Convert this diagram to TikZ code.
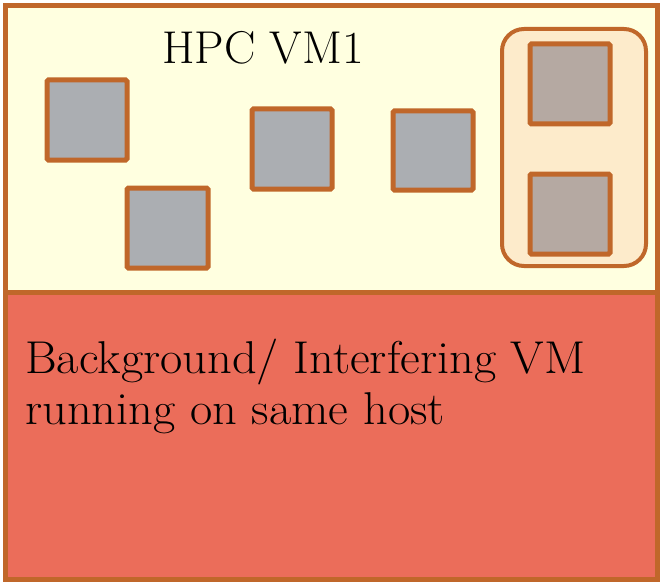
\documentclass[tikz,border=0pt]{standalone}
\definecolor{edge}{HTML}{C0672A}
\definecolor{vmfill}{HTML}{FFFFE0}
\definecolor{cpu}{HTML}{ABAEB2}
\definecolor{grpfill}{HTML}{FDEBCB}
\definecolor{cpuin}{HTML}{B5A9A2}
\definecolor{bgfill}{HTML}{EB6D5A}
\begin{document}
\begin{tikzpicture}[x=1pt,y=-1pt,
  panel/.style={draw=edge,line width=5pt},
  core/.style={draw=edge,line width=5pt,fill=cpu,rounded corners=1.5pt},
  corein/.style={draw=edge,line width=5pt,fill=cpuin,rounded corners=1.5pt},
  group/.style={draw=edge,line width=4pt,fill=grpfill,rounded corners=22pt},
  lbl/.style={font=\fontsize{46}{51}\selectfont,inner sep=0pt}]
\useasboundingbox (0,0) rectangle (661,583);
\fill[white] (0,0) rectangle (661,583);
\draw[panel,fill=vmfill] (5,6) rectangle (657,292);
\draw[panel,fill=bgfill] (5,292) rectangle (657,579);
\draw[core] (47,80) rectangle (127,160);
\draw[core] (127,188) rectangle (208,268);
\draw[core] (252,109) rectangle (332,189);
\draw[core] (393,111) rectangle (473,190);
\draw[group] (502,29) rectangle (646,266);
\draw[corein] (530,44) rectangle (610,124);
\draw[corein] (530,174) rectangle (610,254);
\node[lbl,anchor=base] (title) at (263,64) {\scalebox{1.02}[1]{HPC VM1}};
\node[lbl,anchor=base west] (bgl1) at (25,373) {\scalebox{1.053}[1]{Background/ Interfering VM}};
\node[lbl,anchor=base west] (bgl2) at (25,424) {\scalebox{1.053}[1]{running on same host}};
\end{tikzpicture}
\end{document}
